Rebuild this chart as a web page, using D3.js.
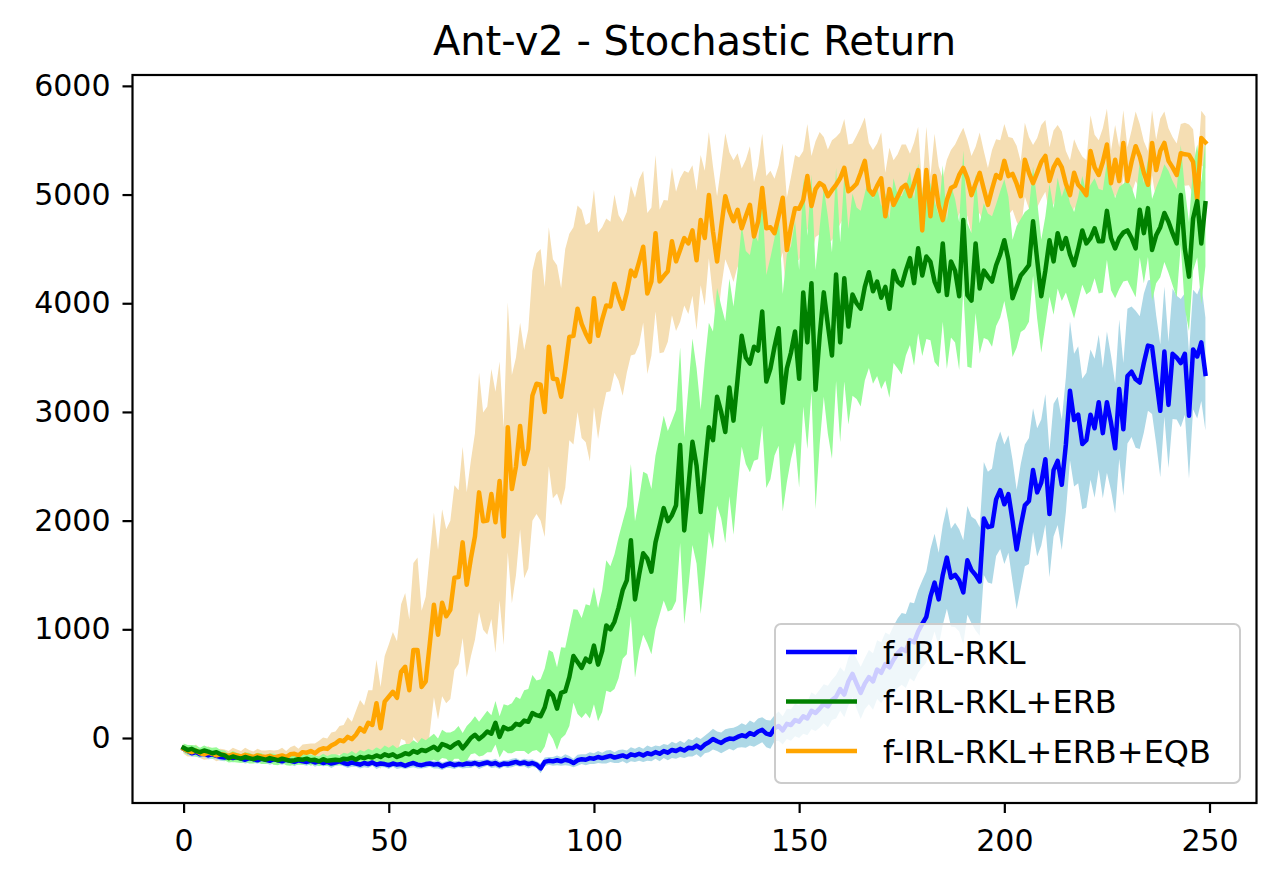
<!DOCTYPE html>
<html>
<head>
<meta charset="utf-8">
<script src="https://cdn.jsdelivr.net/npm/d3@7"></script>
<style>
  body { margin: 0; background: #fff; }
  text { font-family: "DejaVu Sans", sans-serif; }
</style>
</head>
<body>
<div id="chart"></div>
<script>
var svgWidth = 1280;
var svgHeight = 885;

// series names, in legend order
var seriesNames = ["f-IRL-RKL", "f-IRL-RKL+ERB", "f-IRL-RKL+ERB+EQB"];

var xTicks = [0, 50, 100, 150, 200, 250];
var yTicks = [0, 1000, 2000, 3000, 4000, 5000, 6000];

// f-IRL-RKL (blue), mean return per iteration
var rklMean = [-100,-120,-140,-130,-150,-145,-160,-150,-165,-175,
-180,-170,-185,-175,-190,-200,-185,-195,-205,-190,
-200,-210,-195,-205,-215,-200,-210,-220,-205,-215,
-220,-210,-225,-215,-230,-220,-235,-225,-215,-230,
-240,-225,-235,-245,-230,-240,-225,-245,-235,-240,
-250,-235,-245,-240,-255,-240,-230,-245,-250,-240,
-235,-245,-240,-260,-245,-235,-250,-240,-245,-235,
-240,-230,-245,-235,-225,-240,-230,-250,-235,-240,
-230,-220,-235,-225,-240,-230,-245,-280,-220,-210,
-215,-205,-215,-200,-210,-230,-205,-195,-200,-185,
-190,-175,-185,-175,-165,-180,-170,-160,-175,-150,
-160,-145,-160,-140,-150,-130,-145,-120,-135,-110,
-120,-100,-115,-90,-95,-70,-95,-60,-40,-10,
-30,-45,-20,-5,-10,10,25,15,45,30,
60,75,40,30,90,110,70,130,120,165,
150,200,180,250,230,270,315,290,350,380,
450,400,520,590,500,415,500,560,520,630,
600,680,650,720,780,820,800,900,880,980,
1050,1115,1300,1430,1275,1500,1660,1475,1500,1450,
1340,1635,1545,1500,1440,2020,1940,1950,2195,2280,
2150,2245,2000,1735,1950,2140,2180,2465,2260,2350,
2565,2060,2465,2550,2330,2700,3195,2925,2975,2705,
2740,2975,2850,3090,2805,3090,2900,2665,3210,2840,
3330,3370,3300,3270,3450,3610,3600,3300,3010,3555,
3065,3535,3500,3450,3535,2965,3575,3510,3640,3350];

var rklStd = [30,35,30,40,35,30,35,40,30,35,
35,30,40,35,30,35,40,35,30,35,
30,35,40,35,30,35,30,40,35,30,
35,30,40,35,30,35,40,30,35,30,
35,40,30,35,40,35,30,40,35,30,
35,30,40,35,30,35,40,35,30,35,
30,35,40,35,30,40,35,30,35,40,
35,30,40,35,30,35,40,35,30,35,
40,35,30,35,40,35,30,45,40,35,
40,45,40,50,45,40,50,45,50,55,
50,55,50,60,55,50,60,55,60,65,
60,65,60,70,65,60,70,65,70,75,
70,75,70,80,75,80,85,80,90,95,
90,95,100,95,105,100,110,105,115,110,
120,115,125,130,120,135,130,140,145,150,
150,160,155,170,165,175,180,190,185,200,
200,210,220,215,230,240,235,250,260,270,
280,290,300,310,320,330,340,350,360,380,
400,420,440,450,430,460,470,450,480,470,
480,500,490,510,500,520,510,530,520,540,
550,540,560,550,570,560,580,570,590,580,
600,580,610,590,600,620,640,610,630,600,
620,600,640,620,600,650,620,600,640,610,
620,600,630,610,640,600,620,590,610,600,
580,600,570,590,560,580,550,570,540,520];

// f-IRL-RKL+ERB (green)
var erbMean = [-90,-110,-100,-120,-130,-115,-125,-140,-130,-150,
-160,-185,-170,-180,-190,-175,-185,-195,-180,-190,
-200,-185,-195,-205,-190,-200,-210,-205,-195,-200,
-190,-205,-200,-215,-195,-210,-205,-200,-205,-190,
-195,-180,-200,-175,-185,-170,-180,-160,-175,-150,
-165,-150,-175,-160,-140,-150,-120,-135,-110,-120,
-100,-80,-110,-55,-70,-90,-60,-40,-95,-50,
0,30,-10,20,60,40,140,10,100,80,
90,130,120,160,150,230,210,200,280,430,
390,270,415,430,560,755,700,645,730,700,
850,675,800,1035,1000,1070,1200,1360,1450,1820,
1275,1500,1700,1650,1530,1800,1955,2115,1995,2050,
2140,2695,1910,2300,2725,2505,2080,2475,2860,2740,
3140,3000,2815,3225,2920,3300,3700,3500,3445,3600,
3565,3925,3280,3400,3600,3770,3085,3400,3545,3740,
3305,4100,3640,4185,3205,3700,4100,3800,3520,4265,
3640,4230,3785,4080,4000,3950,4150,4285,4110,4200,
4050,4150,3950,4300,4200,4165,4300,4415,4185,4505,
4255,4430,4380,4200,4110,4550,4075,4385,4300,4065,
4765,4075,4025,4550,4135,4300,4245,4200,4350,4450,
4580,4400,4045,4150,4255,4300,4350,4755,4400,4065,
4300,4580,4385,4645,4500,4600,4450,4350,4500,4670,
4550,4600,4690,4570,4570,4850,4600,4505,4600,4650,
4670,4600,4505,4860,4645,4875,4490,4625,4700,4830,
4750,4645,4550,4995,4500,4245,4780,4940,4550,4920];

var erbStd = [40,45,35,50,40,45,40,50,45,40,
45,40,50,45,40,45,50,40,45,50,
40,45,50,45,40,50,45,40,50,45,
45,50,40,45,50,45,55,50,45,55,
50,60,55,65,60,70,65,75,70,80,
75,85,80,90,85,95,100,90,110,100,
110,120,105,130,120,140,130,150,140,160,
150,170,160,180,190,170,200,190,210,220,
230,250,240,280,300,350,320,340,360,380,
400,380,420,400,450,430,480,460,500,520,
540,520,560,600,580,620,650,630,680,700,
720,700,750,780,760,800,820,850,830,870,
880,900,860,920,950,900,940,980,960,1000,
1000,980,1020,1000,1050,1000,1020,980,1000,1050,
1000,1050,980,1020,1000,1080,1000,1050,980,1020,
1000,1050,980,1000,1100,1000,960,1000,950,980,
920,950,900,930,880,900,860,880,850,870,
840,860,820,850,800,820,780,800,760,780,
740,760,720,740,700,720,680,700,660,680,
640,660,620,640,600,620,580,600,560,580,
560,580,540,560,520,540,520,500,540,520,
500,520,490,510,480,500,470,490,480,500,
470,490,460,480,470,450,480,460,470,450,
460,470,450,440,460,450,470,440,460,450,
470,480,500,460,550,500,480,520,560,580];

// f-IRL-RKL+ERB+EQB (orange)
var eqbMean = [-100,-120,-130,-115,-140,-150,-135,-145,-160,-150,
-155,-165,-150,-160,-170,-155,-165,-175,-160,-170,
-175,-165,-180,-170,-160,-175,-150,-145,-160,-130,
-135,-120,-140,-110,-95,-100,-70,-50,-20,-30,
10,-10,30,90,60,140,120,320,90,335,
380,425,370,610,655,440,810,810,470,520,
870,1225,950,1245,1120,1180,1475,1480,1800,1410,
1650,1855,2260,1995,2000,2245,1985,2365,1855,2860,
2290,2500,2870,2520,2660,3150,3260,3250,3000,3600,
3305,3300,3140,3400,3690,3700,3950,3810,3720,3645,
4045,3700,3850,3980,3970,4180,4050,3950,4100,4300,
4250,4380,4520,4090,4200,4645,4200,4250,4295,4570,
4385,4490,4600,4550,4670,4395,4765,4600,4995,4660,
4385,4700,4985,4850,4755,4860,4690,4800,4905,4615,
4750,5060,4690,4700,4645,4800,4970,4490,4700,4875,
4870,4950,5170,4895,5050,5105,5080,4985,5040,5090,
5150,5245,5030,5060,5100,5200,5310,5045,5000,5080,
5150,4800,5050,4905,4980,5060,5090,4985,5100,5225,
4670,5225,4800,5170,4900,4765,4950,5060,5080,5180,
5245,5150,4995,5100,5200,5050,4905,5050,5180,5150,
5310,5170,5190,5100,4985,5320,5200,5105,5200,5300,
5355,5125,5250,5320,5250,5100,4995,5200,5090,5050,
4995,5400,5250,5180,5300,5460,5105,5320,5125,5475,
5125,5300,5445,5350,5200,5090,5475,5225,5400,5475,
5310,5250,5180,5380,5370,5365,5300,4950,5520,5480];

var eqbStd = [45,50,40,55,45,50,60,45,55,50,
50,45,60,55,50,65,55,50,60,55,
60,55,65,60,70,55,65,75,60,70,
80,70,90,85,100,95,120,110,130,150,
180,160,220,260,240,300,320,400,380,420,
480,550,520,620,680,650,800,850,700,780,
820,850,780,860,800,820,850,800,880,850,
900,950,1100,1000,1050,1150,1200,1100,1000,1150,
1050,1000,950,1050,1100,1150,1200,1250,1150,1100,
1100,1050,1000,1100,950,1000,950,1050,1000,1100,
1000,950,850,800,780,820,760,800,740,780,
720,760,700,740,680,720,660,700,650,680,
640,660,620,650,600,640,600,620,580,600,
600,560,580,540,560,520,550,520,540,500,
520,500,480,520,500,470,500,480,460,490,
470,450,480,460,440,470,450,430,460,440,
420,450,430,410,440,420,400,430,410,390,
420,400,380,410,390,400,370,390,380,400,
380,400,370,390,360,380,370,350,380,360,
370,350,360,340,370,350,340,360,330,350,
340,360,330,350,320,340,330,350,320,340,
330,310,340,320,330,300,320,310,330,300,
320,330,300,320,310,330,300,320,310,300,
310,290,320,300,290,310,300,280,300,290,
300,280,290,270,290,280,300,260,250,240];

var lineColors = ["blue", "green", "orange"];
var bandColors = ["lightblue", "palegreen", "wheat"];

// plot area
var plotLeft = 132.5, plotRight = 1256.5, plotTop = 75, plotBottom = 803;

var svg = d3.select("#chart")
  .append("svg")
  .attr("width", svgWidth)
  .attr("height", svgHeight);

svg.append("rect")
  .attr("width", svgWidth)
  .attr("height", svgHeight)
  .attr("fill", "white");

var xScale = d3.scaleLinear()
  .domain([-12.45, 261.45])
  .range([plotLeft, plotRight]);

var yScale = d3.scaleLinear()
  .domain([-598, 6100])
  .range([plotBottom, plotTop]);

svg.append("clipPath")
  .attr("id", "plot-clip")
  .append("rect")
  .attr("x", plotLeft)
  .attr("y", plotTop)
  .attr("width", plotRight - plotLeft)
  .attr("height", plotBottom - plotTop);

var plot = svg.append("g").attr("clip-path", "url(#plot-clip)");

// build one record per series
var series = [
  { name: seriesNames[0], mean: rklMean, std: rklStd, color: lineColors[0], band: bandColors[0] },
  { name: seriesNames[1], mean: erbMean, std: erbStd, color: lineColors[1], band: bandColors[1] },
  { name: seriesNames[2], mean: eqbMean, std: eqbStd, color: lineColors[2], band: bandColors[2] }
];

var areaGen = function(s) {
  return d3.area()
    .x(function(d, i) { return xScale(i); })
    .y0(function(d, i) { return yScale(d - s.std[i]); })
    .y1(function(d, i) { return yScale(d + s.std[i]); })(s.mean);
};

var lineGen = d3.line()
  .x(function(d, i) { return xScale(i); })
  .y(function(d) { return yScale(d); });

// shaded bands first: orange, blue, green on top
[2, 0, 1].forEach(function(k) {
  plot.append("path")
    .attr("fill", series[k].band)
    .attr("stroke", "none")
    .attr("d", areaGen(series[k]));
});

// mean lines
[0, 2, 1].forEach(function(k) {
  plot.append("path")
    .attr("fill", "none")
    .attr("stroke", series[k].color)
    .attr("stroke-width", 4.5)
    .attr("stroke-linejoin", "round")
    .attr("stroke-linecap", "square")
    .attr("d", lineGen(series[k].mean));
});

// axes
var xAxis = svg.append("g")
  .attr("transform", "translate(0," + plotBottom + ")")
  .call(d3.axisBottom(xScale).tickValues(xTicks).tickSize(10).tickPadding(17)
    .tickSizeOuter(0).tickFormat(d3.format("d")));

var yAxis = svg.append("g")
  .attr("transform", "translate(" + plotLeft + ",0)")
  .call(d3.axisLeft(yScale).tickValues(yTicks).tickSize(10).tickPadding(12)
    .tickSizeOuter(0).tickFormat(d3.format("d")));

[xAxis, yAxis].forEach(function(ax) {
  ax.select(".domain").remove();
  ax.selectAll(".tick line").attr("stroke", "black").attr("stroke-width", 2.2);
  ax.selectAll(".tick text")
    .attr("fill", "black")
    .style("font-family", "DejaVu Sans")
    .style("font-size", "30px");
});

// frame
svg.append("rect")
  .attr("x", plotLeft)
  .attr("y", plotTop)
  .attr("width", plotRight - plotLeft)
  .attr("height", plotBottom - plotTop)
  .attr("fill", "none")
  .attr("stroke", "black")
  .attr("stroke-width", 2.2);

// title
svg.append("text")
  .attr("x", (plotLeft + plotRight) / 2)
  .attr("y", 55)
  .attr("text-anchor", "middle")
  .style("font-size", "40px")
  .text("Ant-v2 - Stochastic Return");

// legend
var legend = svg.append("g").attr("transform", "translate(775,624)");

legend.append("rect")
  .attr("width", 465)
  .attr("height", 159)
  .attr("rx", 6)
  .attr("fill", "white")
  .attr("fill-opacity", 0.8)
  .attr("stroke", "#cccccc")
  .attr("stroke-width", 2);

series.forEach(function(s, i) {
  var yy = 28 + i * 49.5;
  legend.append("line")
    .attr("x1", 11).attr("x2", 82)
    .attr("y1", yy).attr("y2", yy)
    .attr("stroke", s.color)
    .attr("stroke-width", 4.5);
  legend.append("text")
    .attr("x", 108)
    .attr("y", yy)
    .attr("dy", "0.36em")
    .style("font-size", "32px")
    .text(s.name);
});
</script>
</body>
</html>
